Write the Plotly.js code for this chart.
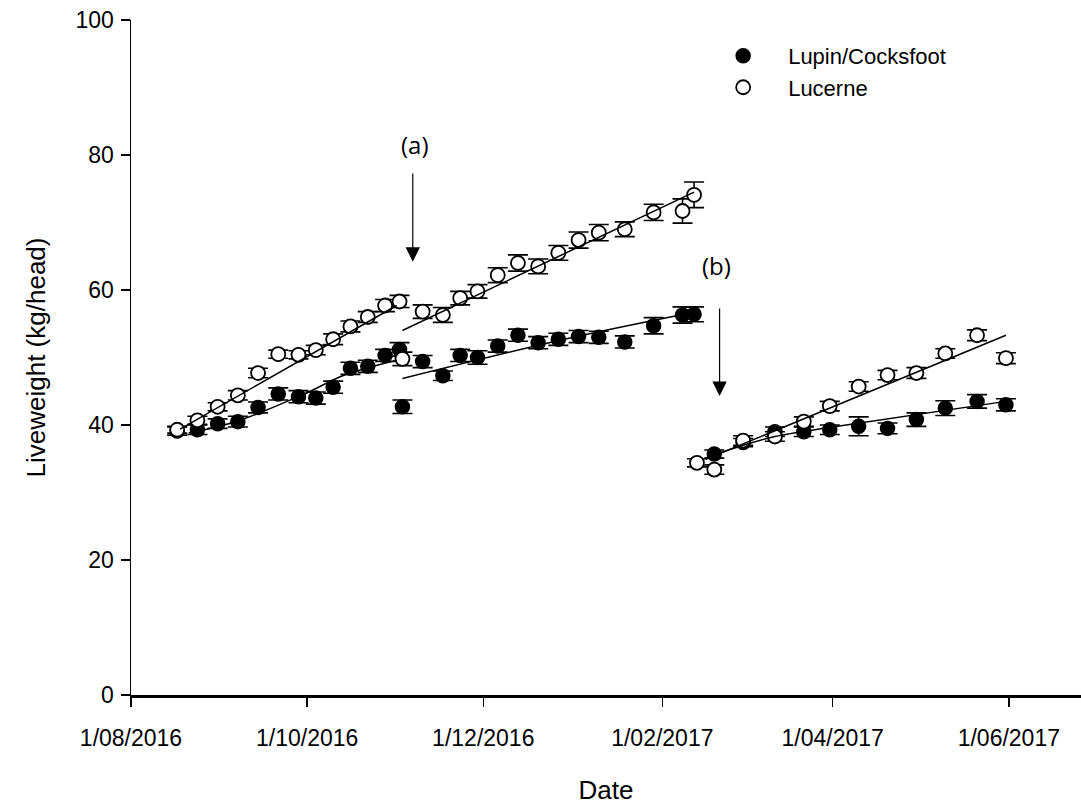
<!DOCTYPE html>
<html>
<head>
<meta charset="utf-8">
<script src="https://cdn.plot.ly/plotly-3.0.1.min.js"></script>
<style>
  html, body { margin: 0; padding: 0; background: #ffffff; }
  #chart { width: 1081px; height: 805px; }
</style>
</head>
<body>
<div id="chart"></div>
<script>
// Weighing dates (shared by both treatments in the first two periods)
const lucerneDates = [
  '2016-08-17','2016-08-24','2016-08-31','2016-09-07','2016-09-14','2016-09-21','2016-09-28',
  '2016-10-04','2016-10-10','2016-10-16','2016-10-22','2016-10-28','2016-11-02','2016-11-03',
  '2016-11-10','2016-11-17','2016-11-23','2016-11-29','2016-12-06','2016-12-13','2016-12-20',
  '2016-12-27','2017-01-03','2017-01-10','2017-01-19','2017-01-29','2017-02-08','2017-02-12',
  '2017-02-13','2017-02-19','2017-03-01','2017-03-12','2017-03-22','2017-03-31','2017-04-10',
  '2017-04-20','2017-04-30','2017-05-10','2017-05-21','2017-05-31'
];
// Mean liveweight (kg/head) and standard error, Lucerne
const lucerneLw = [
  39.3, 40.7, 42.7, 44.4, 47.7, 50.5, 50.4, 51.1, 52.7, 54.6, 56.0, 57.7, 58.3, 49.8,
  56.8, 56.3, 58.8, 59.8, 62.2, 64.0, 63.5, 65.5, 67.4, 68.5, 69.0, 71.5, 71.7, 74.1,
  34.4, 33.4, 37.7, 38.3, 40.5, 42.8, 45.7, 47.4, 47.7, 50.6, 53.3, 49.9
];
const lucerneSe = [
  0.5, 0.6, 0.6, 0.7, 0.7, 0.6, 0.6, 0.7, 0.8, 0.8, 0.8, 0.9, 0.9, 1.0,
  1.0, 1.1, 1.0, 1.0, 1.1, 1.2, 1.1, 1.1, 1.2, 1.2, 1.1, 1.2, 1.8, 1.9,
  0.6, 0.7, 0.7, 0.7, 0.7, 0.7, 0.7, 0.7, 0.8, 0.7, 0.8, 0.8
];

const lupinDates = [
  '2016-08-17','2016-08-24','2016-08-31','2016-09-07','2016-09-14','2016-09-21','2016-09-28',
  '2016-10-04','2016-10-10','2016-10-16','2016-10-22','2016-10-28','2016-11-02','2016-11-03',
  '2016-11-10','2016-11-17','2016-11-23','2016-11-29','2016-12-06','2016-12-13','2016-12-20',
  '2016-12-27','2017-01-03','2017-01-10','2017-01-19','2017-01-29','2017-02-08','2017-02-12',
  '2017-02-19','2017-03-01','2017-03-12','2017-03-22','2017-03-31','2017-04-10',
  '2017-04-20','2017-04-30','2017-05-10','2017-05-21','2017-05-31'
];
// Mean liveweight (kg/head) and standard error, Lupin/Cocksfoot
const lupinLw = [
  39.1, 39.3, 40.2, 40.5, 42.6, 44.6, 44.2, 44.0, 45.6, 48.4, 48.7, 50.3, 51.2, 42.7,
  49.4, 47.3, 50.3, 50.0, 51.7, 53.3, 52.2, 52.7, 53.1, 53.0, 52.3, 54.7, 56.3, 56.4,
  35.7, 37.4, 39.0, 39.0, 39.3, 39.8, 39.5, 40.8, 42.5, 43.5, 43.0
];
const lupinSe = [
  0.6, 0.7, 0.7, 0.8, 0.8, 0.9, 0.9, 0.9, 0.9, 0.9, 0.9, 0.9, 1.0, 1.0,
  0.9, 0.7, 0.9, 1.0, 0.9, 0.9, 0.9, 0.9, 0.9, 0.9, 0.9, 1.2, 1.2, 1.1,
  0.6, 0.6, 0.7, 0.7, 0.7, 1.4, 0.8, 1.0, 1.1, 1.0, 0.9
];

// Fitted growth lines for each grazing period
const lucerneFitDates = [
  ['2016-08-18','2016-11-01'],
  ['2016-11-03','2017-02-12'],
  ['2017-02-16','2017-05-31']
];
const lucerneFitLw = [
  [39.4, 57.7],
  [54.0, 74.5],
  [34.9, 53.3]
];
const lupinFitDates = [
  ['2016-08-21','2016-09-07','2016-09-30','2016-10-14','2016-11-01'],
  ['2016-11-03','2016-12-28','2017-02-12'],
  ['2017-02-16','2017-03-01','2017-03-12','2017-04-01','2017-05-31']
];
const lupinFitLw = [
  [38.8, 40.6, 44.6, 47.4, 49.6],
  [46.9, 52.6, 56.7],
  [35.1, 37.0, 38.3, 39.7, 43.5]
];

// Axis ticks
const xTickVals = ['2016-08-01','2016-10-01','2016-12-01','2017-02-01','2017-04-01','2017-06-01'];
const xTickText = ['1/08/2016','1/10/2016','1/12/2016','1/02/2017','1/04/2017','1/06/2017'];

const FONT = 'Liberation Sans, Arial, sans-serif';
const errStyle = (arr) => ({ type: 'data', array: arr, visible: true, color: '#000', thickness: 1.6, width: 10 });

const traces = [
  {
    name: 'Lupin/Cocksfoot', type: 'scatter', mode: 'markers',
    x: lupinDates, y: lupinLw, error_y: errStyle(lupinSe),
    marker: { symbol: 'circle', size: 14, color: '#000', line: { color: '#000', width: 1.5 } }
  },
  {
    name: 'Lucerne', type: 'scatter', mode: 'markers',
    x: lucerneDates, y: lucerneLw, error_y: errStyle(lucerneSe),
    marker: { symbol: 'circle', size: 14, color: '#fff', line: { color: '#000', width: 1.8 } }
  }
];

lupinFitDates.forEach((d, i) => traces.push({
  type: 'scatter', mode: 'lines', x: d, y: lupinFitLw[i], showlegend: false, hoverinfo: 'skip',
  line: { color: '#000', width: 1.5, shape: d.length > 2 ? 'spline' : 'linear' }
}));
lucerneFitDates.forEach((d, i) => traces.push({
  type: 'scatter', mode: 'lines', x: d, y: lucerneFitLw[i], showlegend: false, hoverinfo: 'skip',
  line: { color: '#000', width: 1.5 }
}));

const markFont = { family: 'Open Sans, Lato, sans-serif', size: 24, color: '#000' };

const layout = {
  width: 1081, height: 805,
  margin: { l: 131, r: 0, t: 20, b: 110 },
  paper_bgcolor: '#fff', plot_bgcolor: '#fff',
  font: { family: FONT, color: '#000' },
  showlegend: true,
  legend: {
    x: 0.597, y: 0.978, xanchor: 'left', yanchor: 'top',
    bgcolor: 'rgba(0,0,0,0)', itemwidth: 80,
    font: { family: FONT, size: 22, color: '#000' },
    tracegroupgap: 0
  },
  xaxis: {
    type: 'date',
    range: ['2016-08-01', '2017-06-26'],
    tickmode: 'array', tickvals: xTickVals, ticktext: xTickText,
    ticks: 'outside', ticklen: 9, tickwidth: 1.5, tickcolor: '#000',
    ticklabelstandoff: 12,
    showline: true, linecolor: '#000', linewidth: 2.5,
    showgrid: false, zeroline: false,
    tickfont: { family: FONT, size: 23, color: '#000' },
    title: { text: 'Date', font: { family: FONT, size: 26, color: '#000' }, standoff: 32 }
  },
  yaxis: {
    range: [0, 100], dtick: 20, tick0: 0,
    ticks: 'outside', ticklen: 9, tickwidth: 1.5, tickcolor: '#000',
    ticklabelstandoff: 2,
    showline: true, linecolor: '#000', linewidth: 1.5,
    showgrid: false, zeroline: false,
    tickfont: { family: FONT, size: 23, color: '#000' },
    title: { text: 'Liveweight (kg/head)', font: { family: FONT, size: 26, color: '#000' }, standoff: 22 }
  },
  annotations: [
    { x: '2016-11-07 10:00', y: 81.6, xref: 'x', yref: 'y', text: '(a)', showarrow: false, font: markFont },
    { x: '2016-11-06 14:00', y: 64.2, xref: 'x', yref: 'y', axref: 'x', ayref: 'y',
      ax: '2016-11-06 14:00', ay: 77.5, text: '', showarrow: true,
      arrowhead: 2, arrowsize: 2.4, arrowwidth: 1.2, arrowcolor: '#000', standoff: 0 },
    { x: '2017-02-19 20:00', y: 63.6, xref: 'x', yref: 'y', text: '(b)', showarrow: false, font: markFont },
    { x: '2017-02-20 20:00', y: 44.3, xref: 'x', yref: 'y', axref: 'x', ayref: 'y',
      ax: '2017-02-20 20:00', ay: 57.5, text: '', showarrow: true,
      arrowhead: 2, arrowsize: 2.4, arrowwidth: 1.2, arrowcolor: '#000', standoff: 0 }
  ]
};

Plotly.newPlot('chart', traces, layout, { displayModeBar: false, staticPlot: true });
</script>
</body>
</html>
